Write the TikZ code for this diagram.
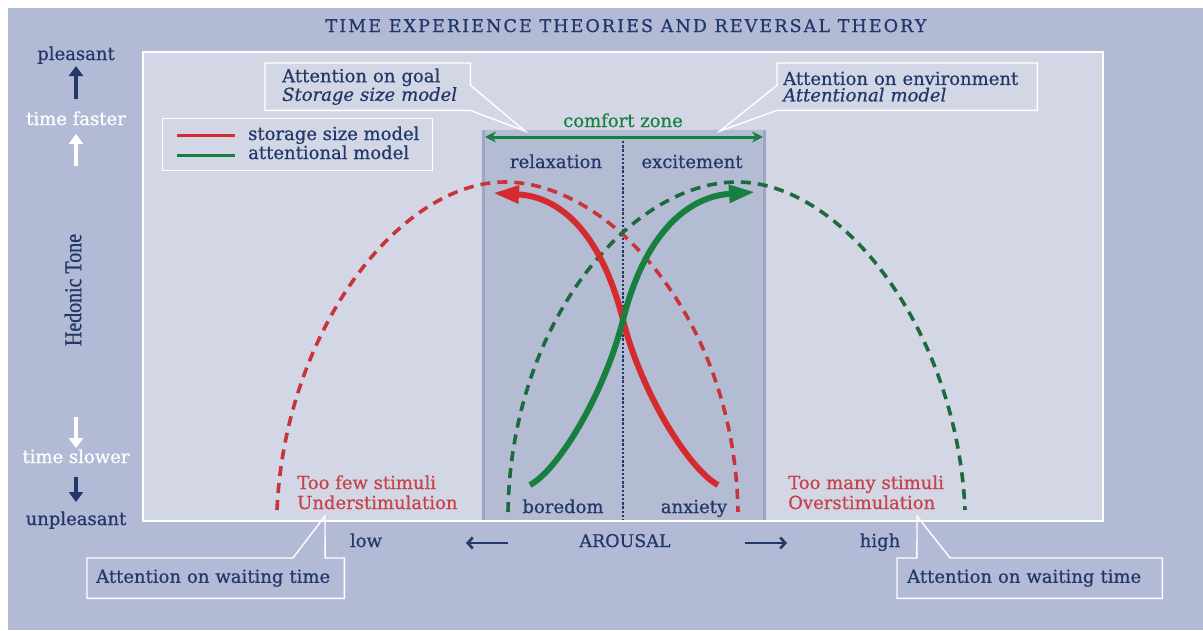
\documentclass[tikz,border=0pt]{standalone}
\usepackage{fontspec}
\setmainfont{DejaVu Serif}[FakeBold=0.7]
\newfontfamily\hedfont{Liberation Serif}[FakeStretch=0.83,FakeBold=0.8]
\newfontfamily\ttlfont{DejaVu Serif}[LetterSpace=12,FakeBold=0.8]
\usetikzlibrary{arrows.meta,calc}
\definecolor{bgout}{HTML}{B2BAD5}
\definecolor{panelc}{HTML}{D3D7E5}
\definecolor{czone}{HTML}{B4BCD4}
\definecolor{czedge}{HTML}{9DA7C5}
\definecolor{navy}{HTML}{22386A}
\definecolor{redS}{HTML}{D52B2E}
\definecolor{redD}{HTML}{C9343B}
\definecolor{greenS}{HTML}{17803E}
\definecolor{greenD}{HTML}{1B6B3E}
\definecolor{redtext}{HTML}{C8424A}
\begin{document}
\begin{tikzpicture}[x=1pt,y=-1pt,
  every node/.style={font=\fontsize{18}{16.5}\selectfont, inner sep=0pt, text=navy},
  callout/.style={draw=none, anchor=north west, align=left, inner ysep=0pt},
  outline/.style={draw=white, line width=1.4pt, line join=miter},
  dashcurve/.style={line width=3.6pt, dash pattern=on 10pt off 7pt},
  solidcurve/.style={line width=6pt},
  redlbl/.style={text=redtext, anchor=base west},
  axarrow/.style={line width=3.4pt, -{Triangle[length=10pt,width=14pt]}},
  hzarrow/.style={navy, line width=2.6pt, -{Straight Barb[length=5pt,width=11pt]}}]
\useasboundingbox (0,0) rectangle (1203,630);
\fill[white] (0,0) rectangle (1203,630);
\fill[bgout] (8,8) rectangle (1203,630);
% panel
\path[fill=panelc, draw=white, line width=1.5pt] (143,52) rectangle (1103,521);
% comfort zone
\fill[czone] (483,130) rectangle (764,520);
\draw[czedge, line width=3pt] (483,130) -- (483,520) (764,130) -- (764,520);
\draw[navy, line width=2.8pt, dash pattern=on 2.4pt off 1.8pt] (623,141) -- (623,520);
% title
\node[anchor=base, font=\ttlfont\fontsize{17.5}{17}\selectfont] (title) at (626,32) {TIME EXPERIENCE THEORIES AND REVERSAL THEORY};
% left axis
\node[anchor=base] (pleasant) at (76,60) {pleasant};
\coordinate (pa1) at (76,99); \coordinate (pa2) at (76,66);
\draw[axarrow, navy] (pa1) -- (pa2);
\node[anchor=base, text=white] (faster) at (76,125) {time faster};
\coordinate (fa1) at (76,166); \coordinate (fa2) at (76,134);
\draw[axarrow, white] (fa1) -- (fa2);
\node[rotate=90, font=\hedfont\fontsize{24}{24}\selectfont] (hedonic) at (73,290) {Hedonic Tone};
\coordinate (sa1) at (76,417); \coordinate (sa2) at (76,448);
\draw[axarrow, white] (sa1) -- (sa2);
\node[anchor=base, text=white] (slower) at (76,463) {time slower};
\coordinate (ua1) at (76,477); \coordinate (ua2) at (76,502);
\draw[axarrow, navy] (ua1) -- (ua2);
\node[anchor=base] (unpleasant) at (76,525) {unpleasant};
% legend
\node[draw=white, line width=1.3pt, minimum width=270pt, minimum height=52pt, anchor=north west] (legend) at (162,118) {};
\coordinate (lr1) at (177,135); \coordinate (lr2) at (235,135);
\coordinate (lg1) at (177,155); \coordinate (lg2) at (235,155);
\draw[redS, line width=3pt] (lr1) -- (lr2);
\draw[greenS, line width=3pt] (lg1) -- (lg2);
\node[anchor=base west] (lgs) at (248,140) {storage size model};
\node[anchor=base west] (lga) at (248,159) {attentional model};
% top callouts
\node[callout, inner xsep=17pt, text width=171pt, minimum width=205pt, minimum height=47pt] (goal) at (265,63) {Attention on goal\\\mbox{\textit{Storage size model}}};
\coordinate (tipA) at (525,131);
\draw[outline] (goal.north west) -- (goal.north east) -- ($(goal.north east)!0.47!(goal.south east)$) -- (tipA) -- (goal.south east) -- (goal.south west) -- cycle;
\node[callout, inner xsep=6pt, text width=248pt, minimum width=260pt, minimum height=47pt] (env) at (777,63) {Attention on environment\\\mbox{\textit{Attentional model}}};
\coordinate (tipB) at (720,131);
\draw[outline] (env.north east) -- (env.north west) -- ($(env.north west)!0.47!(env.south west)$) -- (tipB) -- (env.south west) -- (env.south east) -- cycle;
% comfort zone arrow
\node[anchor=base, text=greenS] (comfort) at (623,127) {comfort zone};
\coordinate (czL) at (485,137); \coordinate (czR) at (763,137);
\draw[greenS, line width=3pt, {Stealth[length=11pt,width=11pt]}-{Stealth[length=11pt,width=11pt]}] (czL) -- (czR);
\node[anchor=base] (relax) at (556,168) {relaxation};
\node[anchor=base] (excite) at (692,168) {excitement};
% dashed curves
\draw[redD, dashcurve] (277,510) .. controls (285,330) and (400,182) .. (505,182) .. controls (610,182) and (735,320) .. (738,512);
\draw[greenD, dashcurve] (508,512) .. controls (511,320) and (632,182) .. (737,182) .. controls (842,182) and (957,330) .. (965,510);
% solid curves
\draw[redS, solidcurve, -{Triangle[length=26pt,width=17pt]}] (718,485) .. controls (690,470) and (642,395) .. (623,320) .. controls (603,240) and (565,197) .. (493,193);
\draw[greenS, solidcurve, -{Triangle[length=26pt,width=17pt]}] (530,485) .. controls (558,470) and (604,395) .. (623,320) .. controls (643,240) and (683,197) .. (755,192);
% bottom labels in zone
\node[anchor=base] (boredom) at (563,513) {boredom};
\node[anchor=base] (anxiety) at (694,513) {anxiety};
\node[redlbl] (few) at (297,489) {Too few stimuli};
\node[redlbl] (under) at (297,509) {Understimulation};
\node[redlbl] (many) at (788,489) {Too many stimuli};
\node[redlbl] (over) at (788,509) {Overstimulation};
% arousal axis
\node[anchor=base] (low) at (366,547) {low};
\node[anchor=base, font=\fontsize{17.5}{16}\selectfont] (arousal) at (625,547) {AROUSAL};
\node[anchor=base] (high) at (880,547) {high};
\coordinate (al1) at (508,543); \coordinate (al2) at (466,543);
\coordinate (ar1) at (745,543); \coordinate (ar2) at (787,543);
\draw[hzarrow] (al1) -- (al2);
\draw[hzarrow] (ar1) -- (ar2);
% bottom callouts
\node[callout, inner xsep=9pt, text width=239pt, minimum width=257pt, minimum height=40pt] (waitL) at (87,558) {Attention on waiting time};
\coordinate (tipC) at (325,516);
\draw[outline] (waitL.north west) -- ($(waitL.north west)!0.8!(waitL.north east)$) -- (tipC) -- ($(waitL.north west)!0.925!(waitL.north east)$) -- (waitL.north east) -- (waitL.south east) -- (waitL.south west) -- cycle;
\node[callout, inner xsep=10pt, text width=245pt, minimum width=265pt, minimum height=40pt] (waitR) at (897,558) {Attention on waiting time};
\coordinate (tipD) at (917,516);
\draw[outline] (waitR.north west) -- ($(waitR.north west)!0.075!(waitR.north east)$) -- (tipD) -- ($(waitR.north west)!0.2!(waitR.north east)$) -- (waitR.north east) -- (waitR.south east) -- (waitR.south west) -- cycle;
\end{tikzpicture}
\end{document}
